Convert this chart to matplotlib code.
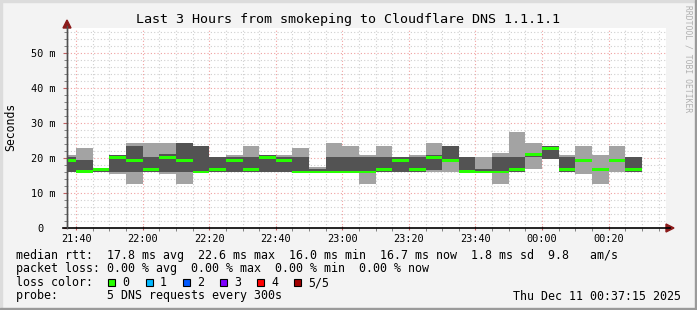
import matplotlib
matplotlib.use("Agg")
import matplotlib.pyplot as plt
import matplotlib.dates as mdates
from matplotlib.patches import Rectangle, Polygon
from matplotlib.lines import Line2D
from datetime import datetime, timedelta

# smokeping data: 5 pings per 5 minute step, sorted values in ms
step_min = 5
first_bin = "2025-12-10 21:35"
view_start = "2025-12-10 21:37:15"
view_end = "2025-12-11 00:37:15"

ping_min = [16.1, 15.8, 16.1, 15.4, 12.6, 16.1, 15.4, 12.6, 15.8, 16.1, 16.1, 16.1,
            16.1, 16.1, 15.8, 15.8, 15.8, 15.8, 12.6, 16.1, 16.1, 16.1, 16.1, 16.1,
            15.8, 15.8, 12.6, 16.1, 16.8, 19.6, 16.1, 15.4, 12.6, 16.1, 16.1]
ping_lo = [16.1, 15.9, 16.1, 16.1, 16.1, 16.1, 16.1, 16.1, 15.8, 16.1, 16.1, 16.1,
           16.1, 16.1, 15.8, 15.8, 15.8, 15.8, 15.8, 16.1, 16.1, 16.1, 16.6, 19.4,
           15.8, 15.8, 15.8, 16.1, 20.2, 19.6, 16.1, 19.2, 16.6, 19.2, 16.1]
median = [19.4, 16.1, 16.8, 20.2, 19.4, 16.8, 20.2, 19.4, 16.0, 16.8, 19.4, 16.8,
          20.2, 19.4, 16.0, 16.0, 16.0, 16.0, 16.0, 16.8, 19.4, 16.8, 20.2, 19.4,
          16.1, 16.0, 16.0, 16.8, 20.9, 22.6, 16.6, 19.4, 16.8, 19.4, 16.7]
ping_hi = [20.2, 19.4, 17.2, 20.9, 23.4, 20.4, 21.0, 24.3, 23.4, 20.2, 20.2, 20.2,
           20.9, 20.2, 20.2, 16.8, 20.2, 20.2, 20.2, 20.2, 20.2, 20.2, 20.9, 23.4,
           20.2, 16.8, 20.2, 20.2, 21.2, 23.4, 20.2, 19.6, 17.0, 19.6, 20.2]
ping_max = [20.9, 22.9, 17.2, 20.9, 24.3, 24.3, 24.3, 24.3, 23.4, 20.2, 20.9, 23.4,
            20.9, 20.9, 22.9, 17.3, 24.3, 23.4, 20.9, 23.4, 20.2, 20.9, 24.3, 23.4,
            20.2, 20.2, 21.5, 27.4, 24.3, 23.4, 20.9, 23.4, 20.9, 23.4, 20.2]

xtick_labels = ["21:40", "22:00", "22:20", "22:40", "23:00", "23:20", "23:40", "00:00", "00:20"]
ytick_values = [0, 10, 20, 30, 40, 50]
ytick_labels = ["0  ", "10 m", "20 m", "30 m", "40 m", "50 m"]

title = "Last 3 Hours from smokeping to Cloudflare DNS 1.1.1.1"
legend_rows = [
    "median rtt:  17.8 ms avg  22.6 ms max  16.0 ms min  16.7 ms now  1.8 ms sd  9.8   am/s",
    "packet loss: 0.00 % avg  0.00 % max  0.00 % min  0.00 % now",
    "loss color:",
    "probe:       5 DNS requests every 300s",
]
loss_labels = ["0", "1", "2", "3", "4", "5/5"]
loss_colors = ["#26ff00", "#00b8ff", "#0059ff", "#7e00ff", "#ff0000", "#a10000"]
stamp = "Thu Dec 11 00:37:15 2025"

W, H = 697, 310
MONO = "DejaVu Sans Mono"


def fx(px):
    return px / W


def fy(py):
    return 1 - py / H


t0 = datetime.strptime(first_bin, "%Y-%m-%d %H:%M")
bins = [t0 + timedelta(minutes=step_min * i) for i in range(len(median))]
width = timedelta(minutes=step_min)

fig = plt.figure(figsize=(W / 100, H / 100), dpi=100, facecolor="#f3f3f3")
ax = fig.add_axes([fx(67), fy(228), fx(666) - fx(67), fy(28) - fy(228)])
ax.set_facecolor("white")

xs = mdates.date2num(bins)
w = mdates.date2num(t0 + width) - mdates.date2num(t0)

# smoke: outer band light, inner band dark
ax.bar(xs, [b - a for a, b in zip(ping_min, ping_max)], bottom=ping_min, width=w,
       align="edge", color="#a3a3a3", linewidth=0, zorder=2)
ax.bar(xs, [b - a for a, b in zip(ping_lo, ping_hi)], bottom=ping_lo, width=w,
       align="edge", color="#535353", linewidth=0, zorder=3)
# median line coloured by loss (all 0 loss here)
thick = 0.85
ax.bar(xs, [thick] * len(median), bottom=[m - thick / 2 for m in median], width=w,
       align="edge", color=loss_colors[0], linewidth=0, zorder=4)

xmin = mdates.date2num(datetime.strptime(view_start, "%Y-%m-%d %H:%M:%S"))
xmax = mdates.date2num(datetime.strptime(view_end, "%Y-%m-%d %H:%M:%S"))
ax.set_xlim(xmin, xmax)
ax.set_ylim(0, 57.14)

# grid like rrdtool: grey dotted minor, red dotted major
ax.xaxis.set_major_locator(mdates.MinuteLocator(byminute=[0, 20, 40]))
ax.xaxis.set_minor_locator(mdates.MinuteLocator(byminute=range(0, 60, 5)))
ax.set_xticklabels(xtick_labels)
ax.set_yticks(ytick_values)
ax.set_yticklabels(ytick_labels)
ax.set_yticks([v for v in range(0, 58, 2) if v % 10], minor=True)

ax.grid(which="minor", color="#cfcfcf", linestyle=(0, (1, 2)), linewidth=0.8, zorder=1)
ax.grid(which="major", color="#f0a0a0", linestyle=(0, (1, 2)), linewidth=0.8, zorder=1)
ax.set_axisbelow(True)

for s in ["top", "right", "bottom"]:
    ax.spines[s].set_visible(False)
ax.spines["left"].set_color("#505050")
ax.spines["left"].set_linewidth(1)

ax.tick_params(axis="both", which="both", labelsize=7.4, colors="#000000",
               labelfontfamily=MONO)
ax.tick_params(axis="x", which="major", length=3, pad=3, color="#c06060", direction="inout")
ax.tick_params(axis="x", which="minor", length=2, color="#707070")
ax.tick_params(axis="y", which="major", length=3, pad=5, color="#c06060")
ax.tick_params(axis="y", which="minor", length=2, color="#707070")

# x axis line + arrows
fig.add_artist(Line2D([fx(63), fx(670)], [fy(228), fy(228)], color="black", linewidth=1.2))
fig.add_artist(Line2D([fx(67), fx(67)], [fy(228), fy(26)], color="#505050", linewidth=1))
fig.add_artist(Polygon([[fx(666), fy(224)], [fx(666), fy(232)], [fx(674), fy(228)]],
                       closed=True, color="#8b1a1a"))
fig.add_artist(Polygon([[fx(63), fy(28)], [fx(71), fy(28)], [fx(67), fy(20)]],
                       closed=True, color="#8b1a1a"))

# frame
fig.add_artist(Rectangle((0, 0), fx(2), 1, transform=fig.transFigure, color="#dcdcdc"))
fig.add_artist(Rectangle((0, fy(2)), 1, fx(0) + 2 / H, transform=fig.transFigure, color="#dcdcdc"))
fig.add_artist(Rectangle((fx(W - 2), 0), fx(2), 1, transform=fig.transFigure, color="#9a9a9a"))
fig.add_artist(Rectangle((0, 0), 1, 2 / H, transform=fig.transFigure, color="#9a9a9a"))

fig.text(fx(348), fy(19), title, ha="center", va="center", fontsize=9.6, family=MONO)
fig.text(fx(11), fy(127), "Seconds", rotation=90, ha="center", va="center",
         fontsize=8.3, family=MONO)
fig.text(fx(688), fy(5), "RRDTOOL / TOBI OETIKER", rotation=270, ha="center", va="top",
         fontsize=5.8, family=MONO, color="#b0b0b0")

row_y = [255, 268.5, 282.5, 296]
for txt, yy in zip(legend_rows, row_y):
    fig.text(fx(16), fy(yy), txt, ha="left", va="center", fontsize=8.37, family=MONO)

box_x = [108, 146, 183, 220, 257, 294]
for bx, lab, col in zip(box_x, loss_labels, loss_colors):
    fig.add_artist(Rectangle((fx(bx), fy(286)), 7 / W, 7 / H, transform=fig.transFigure,
                             facecolor=col, edgecolor="black", linewidth=0.8))
    fig.text(fx(bx + 14), fy(282.5), lab, ha="left", va="center", fontsize=8.37, family=MONO)

fig.text(fx(681), fy(296), stamp, ha="right", va="center", fontsize=8.37, family=MONO)

fig.savefig("out.png", dpi=100, facecolor=fig.get_facecolor())
